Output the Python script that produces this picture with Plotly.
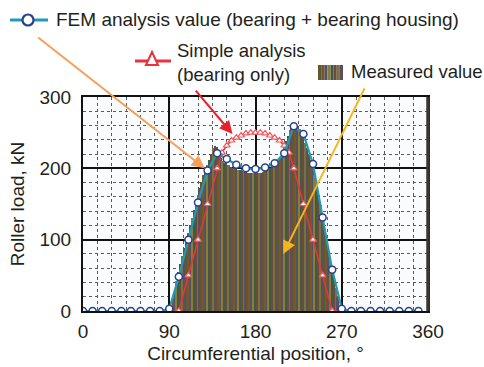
import plotly.graph_objects as go

# ---------------- data ----------------
fem_deg = [0, 10, 20, 30, 40, 50, 60, 70, 80, 90, 100, 110, 120, 130, 140, 150, 160, 170,
           180, 190, 200, 210, 220, 230, 240, 250, 260, 270, 280, 290, 300, 310, 320, 330, 340, 350]
fem_load = [0, 0, 0, 0, 0, 0, 0, 0, 0, 3, 48, 100, 152, 197, 221, 213, 205, 200,
            199, 201, 207, 221, 259, 248, 206, 131, 58, 3, 0, 0, 0, 0, 0, 0, 0, 0]

simple_deg = [0, 10, 20, 30, 40, 50, 60, 70, 80, 90, 100, 110, 120, 130, 140, 145, 150, 155,
              160, 165, 170, 175, 180, 185, 190, 195, 200, 205, 210, 215, 220, 230, 240, 250,
              260, 270, 280, 290, 300, 310, 320, 330, 340, 350]
simple_load = [0, 0, 0, 0, 0, 0, 0, 0, 0, 0, 0, 50, 100, 150, 200, 222, 232, 239,
               243, 246, 249, 250, 250, 250, 249, 246, 243, 239, 232, 222, 200, 150, 100, 50,
               0, 0, 0, 0, 0, 0, 0, 0, 0, 0]

measured_deg = [92, 94, 96, 98, 100, 102, 104, 106, 108, 110, 112, 114, 116, 118, 120, 122, 124,
                126, 128, 130, 132, 134, 136, 138, 140, 142, 144, 146, 148, 150, 152, 154, 156,
                158, 160, 162, 164, 166, 168, 170, 172, 174, 176, 178, 180, 182, 184, 186, 188,
                190, 192, 194, 196, 198, 200, 202, 204, 206, 208, 210, 212, 214, 216, 218, 220,
                222, 224, 226, 228, 230, 232, 234, 236, 238, 240, 242, 244, 246, 248, 250, 252,
                254, 256, 258, 260, 262, 264, 266, 268]
measured_load = [5, 18, 30, 42, 55, 66, 77, 88, 100, 110, 120, 131, 142, 153, 163, 172, 181,
                 190, 198, 205, 212, 220, 228, 232, 230, 222, 214, 210, 207, 205, 204, 202, 201,
                 200, 199, 198, 197, 196, 195, 195, 194, 193, 193, 193, 193, 193, 194, 194, 195,
                 196, 198, 199, 201, 203, 205, 208, 212, 216, 222, 230, 238, 246, 254, 260, 263,
                 262, 259, 255, 250, 244, 236, 228, 220, 212, 203, 190, 176, 162, 148, 134, 119,
                 104, 89, 74, 60, 46, 32, 19, 7]

x_ticks = [0, 90, 180, 270, 360]
y_ticks = [0, 100, 200, 300]

# ---------------- style ----------------
FONT = "Liberation Sans, Arial, sans-serif"
TXT = "#231f20"
stripe_colors = ["#5e5a2c", "#7b5530", "#545366", "#8c7d34", "#3f5b45", "#6d4a3e", "#77733a", "#5a4e60"]
bar_colors = [stripe_colors[i % len(stripe_colors)] for i in range(len(measured_deg))]
TEAL = "#1f9bb5"
NAVY = "#2b3f8f"
RED = "#e6343a"
FS = 19
FS_LEG = 18.5

fig = go.Figure()

fig.add_trace(go.Bar(
    x=measured_deg, y=measured_load, width=2,
    marker=dict(color=bar_colors, line=dict(width=0)),
    showlegend=False, name="Measured value"))

fig.add_trace(go.Scatter(
    x=simple_deg, y=simple_load, mode="lines+markers",
    line=dict(color=RED, width=1.6),
    marker=dict(symbol="triangle-up", size=6, color="white", line=dict(color="#ef5a5f", width=1.2)),
    showlegend=False, name="Simple analysis"))

fig.add_trace(go.Scatter(
    x=fem_deg, y=fem_load, mode="lines+markers",
    line=dict(color=TEAL, width=2.2),
    marker=dict(symbol="circle", size=7, color="white", line=dict(color=NAVY, width=1.5)),
    showlegend=False, name="FEM analysis value"))

# ---------------- layout ----------------
L, R, T, B = 83, 56, 97, 56
W, H = 484, 367
pw, ph = W - L - R, H - T - B


def px(xp):
    return (xp - L) / pw


def py(yp):
    return (H - B - yp) / ph


shapes = []
annotations = []

# thick right border
shapes.append(dict(type="line", xref="paper", yref="paper", x0=1, x1=1, y0=0, y1=1,
                   line=dict(color="#3a3532", width=3.5)))

# legend: FEM
shapes.append(dict(type="line", xref="paper", yref="paper", x0=px(10), x1=px(48), y0=py(20), y1=py(20),
                   line=dict(color=TEAL, width=3)))
shapes.append(dict(type="circle", xref="paper", yref="paper", x0=px(22.5), x1=px(33.5), y0=py(25.5), y1=py(14.5),
                   line=dict(color=NAVY, width=2.2), fillcolor="white"))
annotations.append(dict(text="FEM analysis value (bearing + bearing housing)", xref="paper", yref="paper",
                        x=px(54), y=py(20), xanchor="left", yanchor="middle", showarrow=False,
                        font=dict(size=FS, color=TXT, family=FONT)))
# legend: Simple
shapes.append(dict(type="line", xref="paper", yref="paper", x0=px(135), x1=px(171), y0=py(61), y1=py(61),
                   line=dict(color=RED, width=3)))
shapes.append(dict(type="path", xref="paper", yref="paper",
                   path=f"M {px(152)},{py(52)} L {px(158)},{py(65)} L {px(146)},{py(65)} Z",
                   line=dict(color=RED, width=2), fillcolor="white"))
annotations.append(dict(text="Simple analysis<br>(bearing only)", xref="paper", yref="paper",
                        x=px(175), y=py(62), xanchor="left", yanchor="middle", showarrow=False, align="left",
                        font=dict(size=FS_LEG, color=TXT, family=FONT)))
# legend: Measured swatch
sw_x0, sw_x1 = 318, 343
n_st = 8
for i in range(n_st):
    a = sw_x0 + (sw_x1 - sw_x0) * i / n_st
    b = sw_x0 + (sw_x1 - sw_x0) * (i + 1) / n_st
    shapes.append(dict(type="rect", xref="paper", yref="paper", x0=px(a), x1=px(b), y0=py(80), y1=py(65),
                       line=dict(width=0), fillcolor=stripe_colors[i % len(stripe_colors)]))
annotations.append(dict(text="Measured value", xref="paper", yref="paper",
                        x=px(349), y=py(72), xanchor="left", yanchor="middle", showarrow=False,
                        font=dict(size=FS_LEG, color=TXT, family=FONT)))

# arrows
annotations.append(dict(x=127, y=200, xref="x", yref="y", ax=-168, ay=-132, text="", showarrow=True,
                        arrowhead=2, arrowsize=1.3, arrowwidth=2, arrowcolor="#f5a05a"))
annotations.append(dict(x=156, y=248, xref="x", yref="y", ax=-38, ay=-45, text="", showarrow=True,
                        arrowhead=2, arrowsize=1.3, arrowwidth=2, arrowcolor="#e8202a"))
annotations.append(dict(x=209, y=80, xref="x", yref="y", ax=82, ay=-167, text="", showarrow=True,
                        arrowhead=2, arrowsize=1.3, arrowwidth=2, arrowcolor="#f6b51e"))

fig.update_layout(
    width=W, height=H,
    margin=dict(l=L, r=R, t=T, b=B, pad=0, autoexpand=False),
    paper_bgcolor="white", plot_bgcolor="#fafbfc",
    font=dict(family=FONT, size=FS, color=TXT),
    bargap=0, showlegend=False,
    shapes=shapes, annotations=annotations,
)
fig.update_xaxes(
    range=[0, 360], tickvals=x_ticks, ticktext=[str(v) for v in x_ticks],
    showgrid=True, gridcolor="#111", gridwidth=1.6,
    minor=dict(dtick=15, tick0=0, showgrid=True, gridcolor="#5a5a5a", griddash="dot", gridwidth=1),
    showline=True, linecolor="#111", linewidth=2, mirror=True,
    ticks="", ticklabelstandoff=2, zeroline=False, automargin=False,
    title=dict(text="Circumferential position, °", font=dict(size=FS), standoff=6),
    tickfont=dict(size=FS),
)
fig.update_yaxes(
    range=[0, 300], tickvals=y_ticks, ticktext=[str(v) for v in y_ticks],
    showgrid=True, gridcolor="#111", gridwidth=1.6,
    minor=dict(dtick=20, tick0=0, showgrid=True, gridcolor="#5a5a5a", griddash="dot", gridwidth=1),
    showline=True, linecolor="#111", linewidth=2, mirror=True,
    ticks="", ticklabelstandoff=6, zeroline=False, automargin=False,
    title=dict(text="Roller load, kN", font=dict(size=FS), standoff=10),
    tickfont=dict(size=FS),
)

fig.write_html("out.html", config={"displayModeBar": False},
               post_script="document.body.style.margin='0px';")
